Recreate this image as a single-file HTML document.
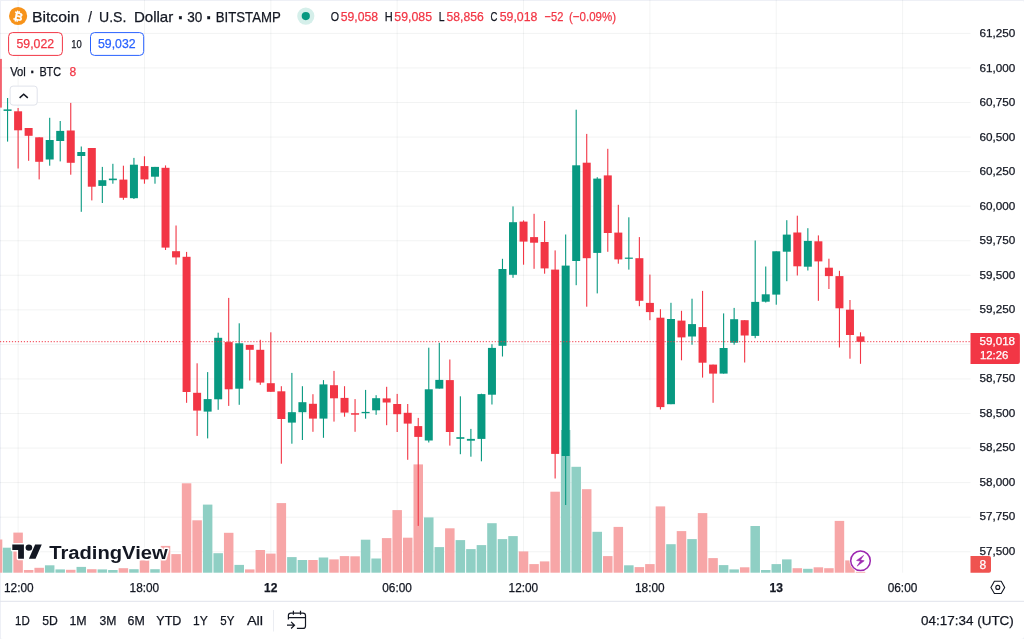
<!DOCTYPE html>
<html lang="en"><head><meta charset="utf-8"><title>BTCUSD Chart</title>
<style>html,body{margin:0;padding:0;background:#fff;overflow:hidden}svg{display:block}text{font-family:"Liberation Sans",Arial,sans-serif}</style></head><body>
<svg width="1024" height="639" viewBox="0 0 1024 639">
<rect x="0" y="0" width="1024" height="639" fill="#fff"/>
<g id="frame" fill="#eef0f6"><rect x="0" y="0" width="1024" height="1"/><rect x="0" y="0" width="1" height="639"/><path d="M1024 0v3a3 3 0 0 0-3-3zM1024 639v-3a3 3 0 0 1-3 3zM0 639v-3a3 3 0 0 0 3 3zM0 0h4a3.5 3.5 0 0 0-3.5 3.5V4H0z"/></g>
<g id="grid"><rect x="17.60" y="0" width="1" height="572.7" fill="#2a2e39" fill-opacity="0.055"/><rect x="143.96" y="0" width="1" height="572.7" fill="#2a2e39" fill-opacity="0.055"/><rect x="270.32" y="0" width="1" height="572.7" fill="#2a2e39" fill-opacity="0.055"/><rect x="396.68" y="0" width="1" height="572.7" fill="#2a2e39" fill-opacity="0.055"/><rect x="523.04" y="0" width="1" height="572.7" fill="#2a2e39" fill-opacity="0.055"/><rect x="649.40" y="0" width="1" height="572.7" fill="#2a2e39" fill-opacity="0.055"/><rect x="775.76" y="0" width="1" height="572.7" fill="#2a2e39" fill-opacity="0.055"/><rect x="902.12" y="0" width="1" height="572.7" fill="#2a2e39" fill-opacity="0.055"/><rect x="0" y="32.90" width="970.5" height="1" fill="#2a2e39" fill-opacity="0.06"/><rect x="0" y="67.45" width="970.5" height="1" fill="#2a2e39" fill-opacity="0.06"/><rect x="0" y="102.01" width="970.5" height="1" fill="#2a2e39" fill-opacity="0.06"/><rect x="0" y="136.56" width="970.5" height="1" fill="#2a2e39" fill-opacity="0.06"/><rect x="0" y="171.12" width="970.5" height="1" fill="#2a2e39" fill-opacity="0.06"/><rect x="0" y="205.68" width="970.5" height="1" fill="#2a2e39" fill-opacity="0.06"/><rect x="0" y="240.23" width="970.5" height="1" fill="#2a2e39" fill-opacity="0.06"/><rect x="0" y="274.78" width="970.5" height="1" fill="#2a2e39" fill-opacity="0.06"/><rect x="0" y="309.34" width="970.5" height="1" fill="#2a2e39" fill-opacity="0.06"/><rect x="0" y="343.89" width="970.5" height="1" fill="#2a2e39" fill-opacity="0.06"/><rect x="0" y="378.45" width="970.5" height="1" fill="#2a2e39" fill-opacity="0.06"/><rect x="0" y="413.00" width="970.5" height="1" fill="#2a2e39" fill-opacity="0.06"/><rect x="0" y="447.56" width="970.5" height="1" fill="#2a2e39" fill-opacity="0.06"/><rect x="0" y="482.11" width="970.5" height="1" fill="#2a2e39" fill-opacity="0.06"/><rect x="0" y="516.67" width="970.5" height="1" fill="#2a2e39" fill-opacity="0.06"/><rect x="0" y="551.23" width="970.5" height="1" fill="#2a2e39" fill-opacity="0.06"/></g>
<g id="volume"><rect x="0" y="539.5" width="2.3" height="33.2" fill="#f7a6a7"/><rect x="2.82" y="547.7" width="9.5" height="25.0" fill="#8fcfc4"/><rect x="13.35" y="532.6" width="9.5" height="40.1" fill="#f7a6a7"/><rect x="23.88" y="570.0" width="9.5" height="2.7" fill="#f7a6a7"/><rect x="34.41" y="567.8" width="9.5" height="4.9" fill="#f7a6a7"/><rect x="44.94" y="565.3" width="9.5" height="7.4" fill="#8fcfc4"/><rect x="55.47" y="569.4" width="9.5" height="3.3" fill="#8fcfc4"/><rect x="66.00" y="569.8" width="9.5" height="2.9" fill="#f7a6a7"/><rect x="76.53" y="566.9" width="9.5" height="5.8" fill="#8fcfc4"/><rect x="87.06" y="569.2" width="9.5" height="3.5" fill="#f7a6a7"/><rect x="97.59" y="569.4" width="9.5" height="3.3" fill="#8fcfc4"/><rect x="108.12" y="570.0" width="9.5" height="2.7" fill="#8fcfc4"/><rect x="118.65" y="568.2" width="9.5" height="4.5" fill="#f7a6a7"/><rect x="129.18" y="569.2" width="9.5" height="3.5" fill="#8fcfc4"/><rect x="139.71" y="560.4" width="9.5" height="12.3" fill="#f7a6a7"/><rect x="150.24" y="569.2" width="9.5" height="3.5" fill="#8fcfc4"/><rect x="160.77" y="545.9" width="9.5" height="26.8" fill="#f7a6a7"/><rect x="171.30" y="554.1" width="9.5" height="18.6" fill="#f7a6a7"/><rect x="181.83" y="483.3" width="9.5" height="89.4" fill="#f7a6a7"/><rect x="192.36" y="520.3" width="9.5" height="52.4" fill="#f7a6a7"/><rect x="202.89" y="504.6" width="9.5" height="68.1" fill="#8fcfc4"/><rect x="213.42" y="553.2" width="9.5" height="19.5" fill="#8fcfc4"/><rect x="223.95" y="532.8" width="9.5" height="39.9" fill="#f7a6a7"/><rect x="234.48" y="564.9" width="9.5" height="7.8" fill="#8fcfc4"/><rect x="245.01" y="569.4" width="9.5" height="3.3" fill="#f7a6a7"/><rect x="255.54" y="550.0" width="9.5" height="22.7" fill="#f7a6a7"/><rect x="266.07" y="553.6" width="9.5" height="19.1" fill="#f7a6a7"/><rect x="276.60" y="503.1" width="9.5" height="69.6" fill="#f7a6a7"/><rect x="287.13" y="557.1" width="9.5" height="15.6" fill="#8fcfc4"/><rect x="297.66" y="560.0" width="9.5" height="12.7" fill="#8fcfc4"/><rect x="308.19" y="560.0" width="9.5" height="12.7" fill="#f7a6a7"/><rect x="318.72" y="557.5" width="9.5" height="15.2" fill="#8fcfc4"/><rect x="329.25" y="559.4" width="9.5" height="13.3" fill="#f7a6a7"/><rect x="339.78" y="556.1" width="9.5" height="16.6" fill="#f7a6a7"/><rect x="350.31" y="556.3" width="9.5" height="16.4" fill="#f7a6a7"/><rect x="360.84" y="539.7" width="9.5" height="33.0" fill="#8fcfc4"/><rect x="371.37" y="558.5" width="9.5" height="14.2" fill="#8fcfc4"/><rect x="381.90" y="538.1" width="9.5" height="34.6" fill="#f7a6a7"/><rect x="392.43" y="510.1" width="9.5" height="62.6" fill="#f7a6a7"/><rect x="402.96" y="537.7" width="9.5" height="35.0" fill="#f7a6a7"/><rect x="413.49" y="464.4" width="9.5" height="108.3" fill="#f7a6a7"/><rect x="424.02" y="517.4" width="9.5" height="55.3" fill="#8fcfc4"/><rect x="434.55" y="547.1" width="9.5" height="25.6" fill="#8fcfc4"/><rect x="445.08" y="528.3" width="9.5" height="44.4" fill="#f7a6a7"/><rect x="455.61" y="540.1" width="9.5" height="32.6" fill="#8fcfc4"/><rect x="466.14" y="549.1" width="9.5" height="23.6" fill="#8fcfc4"/><rect x="476.67" y="545.1" width="9.5" height="27.6" fill="#8fcfc4"/><rect x="487.20" y="523.2" width="9.5" height="49.5" fill="#8fcfc4"/><rect x="497.73" y="539.1" width="9.5" height="33.6" fill="#8fcfc4"/><rect x="508.26" y="536.1" width="9.5" height="36.6" fill="#8fcfc4"/><rect x="518.79" y="551.4" width="9.5" height="21.3" fill="#f7a6a7"/><rect x="529.32" y="564.1" width="9.5" height="8.6" fill="#f7a6a7"/><rect x="539.85" y="561.4" width="9.5" height="11.3" fill="#f7a6a7"/><rect x="550.38" y="491.7" width="9.5" height="81.0" fill="#f7a6a7"/><rect x="560.91" y="430.0" width="9.5" height="142.7" fill="#8fcfc4"/><rect x="571.44" y="466.8" width="9.5" height="105.9" fill="#8fcfc4"/><rect x="581.97" y="489.2" width="9.5" height="83.5" fill="#f7a6a7"/><rect x="592.50" y="531.8" width="9.5" height="40.9" fill="#8fcfc4"/><rect x="603.03" y="556.1" width="9.5" height="16.6" fill="#f7a6a7"/><rect x="613.56" y="526.9" width="9.5" height="45.8" fill="#f7a6a7"/><rect x="624.09" y="565.3" width="9.5" height="7.4" fill="#8fcfc4"/><rect x="634.62" y="567.1" width="9.5" height="5.6" fill="#f7a6a7"/><rect x="645.15" y="564.1" width="9.5" height="8.6" fill="#f7a6a7"/><rect x="655.68" y="506.4" width="9.5" height="66.3" fill="#f7a6a7"/><rect x="666.21" y="544.2" width="9.5" height="28.5" fill="#8fcfc4"/><rect x="676.74" y="531.1" width="9.5" height="41.6" fill="#f7a6a7"/><rect x="687.27" y="539.1" width="9.5" height="33.6" fill="#8fcfc4"/><rect x="697.80" y="513.1" width="9.5" height="59.6" fill="#f7a6a7"/><rect x="708.33" y="558.1" width="9.5" height="14.6" fill="#f7a6a7"/><rect x="718.86" y="565.1" width="9.5" height="7.6" fill="#8fcfc4"/><rect x="729.39" y="569.4" width="9.5" height="3.3" fill="#8fcfc4"/><rect x="739.92" y="567.3" width="9.5" height="5.4" fill="#f7a6a7"/><rect x="750.45" y="526.0" width="9.5" height="46.7" fill="#8fcfc4"/><rect x="760.98" y="570.0" width="9.5" height="2.7" fill="#8fcfc4"/><rect x="771.51" y="564.1" width="9.5" height="8.6" fill="#8fcfc4"/><rect x="782.04" y="559.4" width="9.5" height="13.3" fill="#8fcfc4"/><rect x="792.57" y="568.2" width="9.5" height="4.5" fill="#f7a6a7"/><rect x="803.10" y="568.8" width="9.5" height="3.9" fill="#8fcfc4"/><rect x="813.63" y="567.3" width="9.5" height="5.4" fill="#f7a6a7"/><rect x="824.16" y="568.2" width="9.5" height="4.5" fill="#f7a6a7"/><rect x="834.69" y="520.9" width="9.5" height="51.8" fill="#f7a6a7"/><rect x="845.22" y="560.4" width="9.5" height="12.3" fill="#f7a6a7"/><rect x="855.75" y="571.8" width="9.5" height="0.9" fill="#f7a6a7"/></g>
<g id="candles"><rect x="0" y="58.9" width="1.9" height="48.7" fill="#f3626e"/><rect x="7.02" y="98.0" width="1.1" height="43.6" fill="#089981"/><rect x="3.57" y="109.4" width="8" height="1.5" fill="#089981"/><rect x="17.55" y="108.0" width="1.1" height="60.5" fill="#f23645"/><rect x="14.10" y="111.3" width="8" height="19.0" fill="#f23645"/><rect x="28.08" y="128.0" width="1.1" height="32.8" fill="#f23645"/><rect x="24.63" y="128.0" width="8" height="7.8" fill="#f23645"/><rect x="38.61" y="137.3" width="1.1" height="42.1" fill="#f23645"/><rect x="35.16" y="137.3" width="8" height="24.5" fill="#f23645"/><rect x="49.14" y="117.8" width="1.1" height="47.9" fill="#089981"/><rect x="45.69" y="140.0" width="8" height="19.5" fill="#089981"/><rect x="59.67" y="121.0" width="1.1" height="40.4" fill="#089981"/><rect x="56.22" y="130.9" width="8" height="10.1" fill="#089981"/><rect x="70.20" y="102.9" width="1.1" height="71.8" fill="#f23645"/><rect x="66.75" y="130.5" width="8" height="32.3" fill="#f23645"/><rect x="80.73" y="146.5" width="1.1" height="65.3" fill="#089981"/><rect x="77.28" y="152.0" width="8" height="4.0" fill="#089981"/><rect x="91.26" y="148.0" width="1.1" height="52.4" fill="#f23645"/><rect x="87.81" y="148.0" width="8" height="38.7" fill="#f23645"/><rect x="101.79" y="166.9" width="1.1" height="36.1" fill="#089981"/><rect x="98.34" y="180.2" width="8" height="5.7" fill="#089981"/><rect x="112.32" y="163.8" width="1.1" height="19.9" fill="#089981"/><rect x="108.87" y="178.6" width="8" height="1.6" fill="#089981"/><rect x="122.85" y="165.7" width="1.1" height="34.1" fill="#f23645"/><rect x="119.40" y="179.6" width="8" height="18.2" fill="#f23645"/><rect x="133.38" y="157.9" width="1.1" height="41.1" fill="#089981"/><rect x="129.93" y="164.7" width="8" height="33.5" fill="#089981"/><rect x="143.91" y="156.3" width="1.1" height="27.4" fill="#f23645"/><rect x="140.46" y="166.1" width="8" height="13.3" fill="#f23645"/><rect x="154.44" y="166.9" width="1.1" height="16.8" fill="#089981"/><rect x="150.99" y="166.9" width="8" height="9.8" fill="#089981"/><rect x="164.97" y="165.4" width="1.1" height="84.6" fill="#f23645"/><rect x="161.52" y="167.8" width="8" height="79.8" fill="#f23645"/><rect x="175.50" y="225.5" width="1.1" height="39.1" fill="#f23645"/><rect x="172.05" y="251.2" width="8" height="6.2" fill="#f23645"/><rect x="186.03" y="251.9" width="1.1" height="150.9" fill="#f23645"/><rect x="182.58" y="256.8" width="8" height="135.2" fill="#f23645"/><rect x="196.56" y="363.3" width="1.1" height="72.6" fill="#f23645"/><rect x="193.11" y="392.8" width="8" height="17.8" fill="#f23645"/><rect x="207.09" y="372.1" width="1.1" height="66.3" fill="#089981"/><rect x="203.64" y="399.1" width="8" height="12.5" fill="#089981"/><rect x="217.62" y="332.7" width="1.1" height="77.1" fill="#089981"/><rect x="214.17" y="337.8" width="8" height="61.5" fill="#089981"/><rect x="228.15" y="297.9" width="1.1" height="108.0" fill="#f23645"/><rect x="224.70" y="342.1" width="8" height="47.2" fill="#f23645"/><rect x="238.68" y="323.3" width="1.1" height="81.5" fill="#089981"/><rect x="235.23" y="343.3" width="8" height="45.4" fill="#089981"/><rect x="249.21" y="344.9" width="1.1" height="35.6" fill="#f23645"/><rect x="245.76" y="344.9" width="8" height="4.9" fill="#f23645"/><rect x="259.74" y="339.8" width="1.1" height="45.0" fill="#f23645"/><rect x="256.29" y="349.8" width="8" height="32.8" fill="#f23645"/><rect x="270.27" y="332.3" width="1.1" height="59.5" fill="#f23645"/><rect x="266.82" y="383.2" width="8" height="8.6" fill="#f23645"/><rect x="280.80" y="386.2" width="1.1" height="77.5" fill="#f23645"/><rect x="277.35" y="391.3" width="8" height="27.7" fill="#f23645"/><rect x="291.33" y="372.9" width="1.1" height="70.8" fill="#089981"/><rect x="287.88" y="412.2" width="8" height="10.4" fill="#089981"/><rect x="301.86" y="386.2" width="1.1" height="53.8" fill="#089981"/><rect x="298.41" y="402.2" width="8" height="10.0" fill="#089981"/><rect x="312.39" y="394.2" width="1.1" height="37.6" fill="#f23645"/><rect x="308.94" y="403.8" width="8" height="14.8" fill="#f23645"/><rect x="322.92" y="380.1" width="1.1" height="57.7" fill="#089981"/><rect x="319.47" y="384.4" width="8" height="34.2" fill="#089981"/><rect x="333.45" y="370.9" width="1.1" height="50.7" fill="#f23645"/><rect x="330.00" y="385.2" width="8" height="13.1" fill="#f23645"/><rect x="343.98" y="386.2" width="1.1" height="30.5" fill="#f23645"/><rect x="340.53" y="397.9" width="8" height="14.7" fill="#f23645"/><rect x="354.51" y="399.1" width="1.1" height="32.7" fill="#f23645"/><rect x="351.06" y="413.2" width="8" height="1.5" fill="#f23645"/><rect x="365.04" y="389.9" width="1.1" height="28.8" fill="#089981"/><rect x="361.59" y="411.9" width="8" height="1.3" fill="#089981"/><rect x="375.57" y="395.2" width="1.1" height="19.6" fill="#089981"/><rect x="372.12" y="398.2" width="8" height="12.1" fill="#089981"/><rect x="386.10" y="386.8" width="1.1" height="38.4" fill="#f23645"/><rect x="382.65" y="398.4" width="8" height="4.1" fill="#f23645"/><rect x="396.63" y="393.9" width="1.1" height="38.1" fill="#f23645"/><rect x="393.18" y="404.0" width="8" height="10.2" fill="#f23645"/><rect x="407.16" y="404.0" width="1.1" height="55.8" fill="#f23645"/><rect x="403.71" y="412.8" width="8" height="10.8" fill="#f23645"/><rect x="417.69" y="417.9" width="1.1" height="108.0" fill="#f23645"/><rect x="414.24" y="426.1" width="8" height="10.8" fill="#f23645"/><rect x="428.22" y="347.7" width="1.1" height="94.8" fill="#089981"/><rect x="424.77" y="389.3" width="8" height="51.2" fill="#089981"/><rect x="438.75" y="342.8" width="1.1" height="45.8" fill="#089981"/><rect x="435.30" y="379.9" width="8" height="8.7" fill="#089981"/><rect x="449.28" y="359.5" width="1.1" height="86.1" fill="#f23645"/><rect x="445.83" y="380.1" width="8" height="51.9" fill="#f23645"/><rect x="459.81" y="396.3" width="1.1" height="57.9" fill="#089981"/><rect x="456.36" y="437.2" width="8" height="1.6" fill="#089981"/><rect x="470.34" y="428.9" width="1.1" height="27.8" fill="#089981"/><rect x="466.89" y="438.9" width="8" height="1.8" fill="#089981"/><rect x="480.87" y="393.7" width="1.1" height="67.6" fill="#089981"/><rect x="477.42" y="394.1" width="8" height="44.8" fill="#089981"/><rect x="491.40" y="344.2" width="1.1" height="60.3" fill="#089981"/><rect x="487.95" y="347.9" width="8" height="46.8" fill="#089981"/><rect x="501.93" y="258.8" width="1.1" height="97.7" fill="#089981"/><rect x="498.48" y="269.0" width="8" height="76.8" fill="#089981"/><rect x="512.46" y="206.4" width="1.1" height="71.4" fill="#089981"/><rect x="509.01" y="222.2" width="8" height="52.6" fill="#089981"/><rect x="522.99" y="220.4" width="1.1" height="44.3" fill="#f23645"/><rect x="519.54" y="221.6" width="8" height="20.0" fill="#f23645"/><rect x="533.52" y="213.8" width="1.1" height="55.0" fill="#f23645"/><rect x="530.07" y="237.1" width="8" height="5.6" fill="#f23645"/><rect x="544.05" y="221.0" width="1.1" height="52.7" fill="#f23645"/><rect x="540.60" y="242.0" width="8" height="26.4" fill="#f23645"/><rect x="554.58" y="250.4" width="1.1" height="228.1" fill="#f23645"/><rect x="551.13" y="269.6" width="8" height="184.3" fill="#f23645"/><rect x="565.11" y="234.5" width="1.1" height="270.5" fill="#089981"/><rect x="561.66" y="265.6" width="8" height="190.4" fill="#089981"/><rect x="575.64" y="109.7" width="1.1" height="175.5" fill="#089981"/><rect x="572.19" y="165.3" width="8" height="95.7" fill="#089981"/><rect x="586.17" y="133.9" width="1.1" height="172.8" fill="#f23645"/><rect x="582.72" y="162.7" width="8" height="95.5" fill="#f23645"/><rect x="596.70" y="177.2" width="1.1" height="116.2" fill="#089981"/><rect x="593.25" y="178.6" width="8" height="74.3" fill="#089981"/><rect x="607.23" y="148.8" width="1.1" height="103.0" fill="#f23645"/><rect x="603.78" y="175.4" width="8" height="57.6" fill="#f23645"/><rect x="617.76" y="204.8" width="1.1" height="58.9" fill="#f23645"/><rect x="614.31" y="232.6" width="8" height="26.8" fill="#f23645"/><rect x="628.29" y="217.3" width="1.1" height="52.3" fill="#089981"/><rect x="624.84" y="257.6" width="8" height="1.2" fill="#089981"/><rect x="638.82" y="237.1" width="1.1" height="69.1" fill="#f23645"/><rect x="635.37" y="258.2" width="8" height="42.6" fill="#f23645"/><rect x="649.35" y="274.6" width="1.1" height="45.6" fill="#f23645"/><rect x="645.90" y="302.9" width="8" height="9.2" fill="#f23645"/><rect x="659.88" y="309.2" width="1.1" height="100.3" fill="#f23645"/><rect x="656.43" y="317.7" width="8" height="89.4" fill="#f23645"/><rect x="670.41" y="302.8" width="1.1" height="101.4" fill="#089981"/><rect x="666.96" y="319.0" width="8" height="85.2" fill="#089981"/><rect x="680.94" y="310.8" width="1.1" height="49.5" fill="#f23645"/><rect x="677.49" y="320.6" width="8" height="16.8" fill="#f23645"/><rect x="691.47" y="298.7" width="1.1" height="46.0" fill="#089981"/><rect x="688.02" y="324.1" width="8" height="12.4" fill="#089981"/><rect x="702.00" y="290.9" width="1.1" height="86.7" fill="#f23645"/><rect x="698.55" y="327.1" width="8" height="35.6" fill="#f23645"/><rect x="712.53" y="364.6" width="1.1" height="38.2" fill="#f23645"/><rect x="709.08" y="364.6" width="8" height="9.0" fill="#f23645"/><rect x="723.06" y="313.4" width="1.1" height="60.2" fill="#089981"/><rect x="719.61" y="348.0" width="8" height="25.6" fill="#089981"/><rect x="733.59" y="307.9" width="1.1" height="36.8" fill="#089981"/><rect x="730.14" y="319.2" width="8" height="23.5" fill="#089981"/><rect x="744.12" y="320.2" width="1.1" height="42.3" fill="#f23645"/><rect x="740.67" y="320.2" width="8" height="15.3" fill="#f23645"/><rect x="754.65" y="240.5" width="1.1" height="97.7" fill="#089981"/><rect x="751.20" y="301.9" width="8" height="34.0" fill="#089981"/><rect x="765.18" y="266.5" width="1.1" height="36.0" fill="#089981"/><rect x="761.73" y="294.3" width="8" height="7.4" fill="#089981"/><rect x="775.71" y="251.3" width="1.1" height="53.4" fill="#089981"/><rect x="772.26" y="251.3" width="8" height="43.3" fill="#089981"/><rect x="786.24" y="220.2" width="1.1" height="61.0" fill="#089981"/><rect x="782.79" y="234.6" width="8" height="17.1" fill="#089981"/><rect x="796.77" y="215.7" width="1.1" height="59.8" fill="#f23645"/><rect x="793.32" y="232.5" width="8" height="33.8" fill="#f23645"/><rect x="807.30" y="228.2" width="1.1" height="42.3" fill="#089981"/><rect x="803.85" y="240.9" width="8" height="25.8" fill="#089981"/><rect x="817.83" y="235.4" width="1.1" height="65.4" fill="#f23645"/><rect x="814.38" y="241.3" width="8" height="20.1" fill="#f23645"/><rect x="828.36" y="258.7" width="1.1" height="30.3" fill="#f23645"/><rect x="824.91" y="267.7" width="8" height="8.4" fill="#f23645"/><rect x="838.89" y="270.8" width="1.1" height="76.7" fill="#f23645"/><rect x="835.44" y="276.1" width="8" height="32.2" fill="#f23645"/><rect x="849.42" y="300.0" width="1.1" height="58.7" fill="#f23645"/><rect x="845.97" y="309.7" width="8" height="25.3" fill="#f23645"/><rect x="859.95" y="332.3" width="1.1" height="31.5" fill="#f23645"/><rect x="856.50" y="336.4" width="8" height="5.4" fill="#f23645"/></g>
<line x1="0" y1="341.7" x2="970.5" y2="341.7" stroke="#f23645" stroke-width="1" stroke-dasharray="1.2 1.78"/>
<g id="paxis"><text x="979.4" y="37.1" font-size="11.6" fill="#131722" textLength="35.8" lengthAdjust="spacingAndGlyphs" stroke="#131722" stroke-width="0.25">61,250</text><text x="979.4" y="71.6" font-size="11.6" fill="#131722" textLength="35.8" lengthAdjust="spacingAndGlyphs" stroke="#131722" stroke-width="0.25">61,000</text><text x="979.4" y="106.1" font-size="11.6" fill="#131722" textLength="35.8" lengthAdjust="spacingAndGlyphs" stroke="#131722" stroke-width="0.25">60,750</text><text x="979.4" y="140.6" font-size="11.6" fill="#131722" textLength="35.8" lengthAdjust="spacingAndGlyphs" stroke="#131722" stroke-width="0.25">60,500</text><text x="979.4" y="175.1" font-size="11.6" fill="#131722" textLength="35.8" lengthAdjust="spacingAndGlyphs" stroke="#131722" stroke-width="0.25">60,250</text><text x="979.4" y="209.6" font-size="11.6" fill="#131722" textLength="35.8" lengthAdjust="spacingAndGlyphs" stroke="#131722" stroke-width="0.25">60,000</text><text x="979.4" y="244.1" font-size="11.6" fill="#131722" textLength="35.8" lengthAdjust="spacingAndGlyphs" stroke="#131722" stroke-width="0.25">59,750</text><text x="979.4" y="278.6" font-size="11.6" fill="#131722" textLength="35.8" lengthAdjust="spacingAndGlyphs" stroke="#131722" stroke-width="0.25">59,500</text><text x="979.4" y="313.2" font-size="11.6" fill="#131722" textLength="35.8" lengthAdjust="spacingAndGlyphs" stroke="#131722" stroke-width="0.25">59,250</text><text x="979.4" y="347.7" font-size="11.6" fill="#131722" textLength="35.8" lengthAdjust="spacingAndGlyphs" stroke="#131722" stroke-width="0.25">59,000</text><text x="979.4" y="382.2" font-size="11.6" fill="#131722" textLength="35.8" lengthAdjust="spacingAndGlyphs" stroke="#131722" stroke-width="0.25">58,750</text><text x="979.4" y="416.7" font-size="11.6" fill="#131722" textLength="35.8" lengthAdjust="spacingAndGlyphs" stroke="#131722" stroke-width="0.25">58,500</text><text x="979.4" y="451.2" font-size="11.6" fill="#131722" textLength="35.8" lengthAdjust="spacingAndGlyphs" stroke="#131722" stroke-width="0.25">58,250</text><text x="979.4" y="485.7" font-size="11.6" fill="#131722" textLength="35.8" lengthAdjust="spacingAndGlyphs" stroke="#131722" stroke-width="0.25">58,000</text><text x="979.4" y="520.2" font-size="11.6" fill="#131722" textLength="35.8" lengthAdjust="spacingAndGlyphs" stroke="#131722" stroke-width="0.25">57,750</text><text x="979.4" y="554.7" font-size="11.6" fill="#131722" textLength="35.8" lengthAdjust="spacingAndGlyphs" stroke="#131722" stroke-width="0.25">57,500</text></g>
<path d="M970.5 333.1h47.4a2 2 0 0 1 2 2v26.8a2 2 0 0 1-2 2h-47.4z" fill="#f23645"/>
<text x="979.5" y="344.9" font-size="11.6" fill="#fff" textLength="35.6" lengthAdjust="spacingAndGlyphs" stroke="#fff" stroke-width="0.25">59,018</text>
<text x="979.9" y="358.8" font-size="11.6" fill="#fff" textLength="28.4" lengthAdjust="spacingAndGlyphs" stroke="#fff" stroke-width="0.25">12:26</text>
<path d="M970.5 556.1h18.5a2 2 0 0 1 2 2v12.6a2 2 0 0 1-2 2h-18.5z" fill="#ef5350"/>
<text x="979.4" y="568.6" font-size="12" fill="#fff" stroke="#fff" stroke-width="0.25">8</text>
<g id="taxis"><text x="4.0" y="591.6" font-size="12" fill="#131722" textLength="29.6" lengthAdjust="spacingAndGlyphs" stroke="#131722" stroke-width="0.25">12:00</text><text x="129.6" y="591.6" font-size="12" fill="#131722" textLength="29.6" lengthAdjust="spacingAndGlyphs" stroke="#131722" stroke-width="0.25">18:00</text><text x="270.8" y="591.6" font-size="12" font-weight="bold" fill="#131722" text-anchor="middle" stroke="#131722" stroke-width="0.25">12</text><text x="382.3" y="591.6" font-size="12" fill="#131722" textLength="29.6" lengthAdjust="spacingAndGlyphs" stroke="#131722" stroke-width="0.25">06:00</text><text x="508.6" y="591.6" font-size="12" fill="#131722" textLength="29.6" lengthAdjust="spacingAndGlyphs" stroke="#131722" stroke-width="0.25">12:00</text><text x="635.0" y="591.6" font-size="12" fill="#131722" textLength="29.6" lengthAdjust="spacingAndGlyphs" stroke="#131722" stroke-width="0.25">18:00</text><text x="776.3" y="591.6" font-size="12" font-weight="bold" fill="#131722" text-anchor="middle" stroke="#131722" stroke-width="0.25">13</text><text x="887.7" y="591.6" font-size="12" fill="#131722" textLength="29.6" lengthAdjust="spacingAndGlyphs" stroke="#131722" stroke-width="0.25">06:00</text></g>
<g id="gear" fill="none" stroke="#131722" stroke-width="1.1"><path d="M994.4 581.3h6.8l3.5 6.1-3.5 6.1h-6.8l-3.5-6.1z" stroke-linejoin="round"/><circle cx="997.8" cy="587.4" r="2"/></g>
<rect x="0" y="600.8" width="1024" height="1" fill="#e0e3eb"/>
<g id="ranges"><text x="15" y="625.4" font-size="13" fill="#131722" textLength="14.7" lengthAdjust="spacingAndGlyphs" stroke="#131722" stroke-width="0.25">1D</text><text x="42.2" y="625.4" font-size="13" fill="#131722" textLength="15.6" lengthAdjust="spacingAndGlyphs" stroke="#131722" stroke-width="0.25">5D</text><text x="69.4" y="625.4" font-size="13" fill="#131722" textLength="17.2" lengthAdjust="spacingAndGlyphs" stroke="#131722" stroke-width="0.25">1M</text><text x="99.4" y="625.4" font-size="13" fill="#131722" textLength="16.9" lengthAdjust="spacingAndGlyphs" stroke="#131722" stroke-width="0.25">3M</text><text x="127.5" y="625.4" font-size="13" fill="#131722" textLength="17.2" lengthAdjust="spacingAndGlyphs" stroke="#131722" stroke-width="0.25">6M</text><text x="156.3" y="625.4" font-size="13" fill="#131722" textLength="25.0" lengthAdjust="spacingAndGlyphs" stroke="#131722" stroke-width="0.25">YTD</text><text x="193.1" y="625.4" font-size="13" fill="#131722" textLength="14.7" lengthAdjust="spacingAndGlyphs" stroke="#131722" stroke-width="0.25">1Y</text><text x="220.3" y="625.4" font-size="13" fill="#131722" textLength="14.1" lengthAdjust="spacingAndGlyphs" stroke="#131722" stroke-width="0.25">5Y</text><text x="246.9" y="625.4" font-size="13" fill="#131722" textLength="16.2" lengthAdjust="spacingAndGlyphs" stroke="#131722" stroke-width="0.25">All</text></g>
<rect x="273" y="610" width="1" height="21.5" fill="#ebedf2"/>
<g id="cal" fill="none" stroke="#131722" stroke-width="1.2" stroke-linecap="butt"><path d="M288.4 619.6v-4a2.5 2.5 0 0 1 2.5-2.5h12.1a2.5 2.5 0 0 1 2.5 2.5v10.3a2.5 2.5 0 0 1-2.5 2.5h-6.1"/><path d="M288.4 617.6h17.1M293.4 610.8v4M300.5 610.8v4M287 625.2h7.3M291.1 621.9l3.4 3.3-3.4 3.3"/></g>
<text x="921.1" y="625.4" font-size="13" fill="#131722" textLength="92.7" lengthAdjust="spacingAndGlyphs" stroke="#131722" stroke-width="0.25">04:17:34 (UTC)</text>
<circle cx="18.1" cy="16" r="9.1" fill="#f7931a"/>
<text x="18.3" y="20.3" font-size="11.5" font-weight="bold" fill="#fff" text-anchor="middle" transform="rotate(13 18.1 16)" stroke="#fff" stroke-width="0.25">₿</text>
<text y="21.8" font-size="15" fill="#131722" stroke="#131722" stroke-width="0.25"><tspan x="31.9" textLength="47.4" lengthAdjust="spacingAndGlyphs">Bitcoin</tspan> <tspan x="88.2" textLength="3.7" lengthAdjust="spacingAndGlyphs">/</tspan> <tspan x="99.1" textLength="27.3" lengthAdjust="spacingAndGlyphs">U.S.</tspan> <tspan x="133.9" textLength="39.4" lengthAdjust="spacingAndGlyphs">Dollar</tspan> <tspan x="177.84" dy="2" font-size="19" font-weight="bold">·</tspan><tspan dy="-2" font-size="15"> </tspan> <tspan x="187.3" textLength="15.1" lengthAdjust="spacingAndGlyphs">30</tspan> <tspan x="206.04" dy="2" font-size="19" font-weight="bold">·</tspan><tspan dy="-2" font-size="15"> </tspan> <tspan x="215.8" textLength="65.0" lengthAdjust="spacingAndGlyphs">BITSTAMP</tspan></text>
<circle cx="305.8" cy="16.1" r="8.6" fill="#d5efea"/><circle cx="305.8" cy="16.1" r="4.1" fill="#089981"/>
<g id="ohlc"><text x="330.7" y="20.8" font-size="13" fill="#131722" textLength="8.3" lengthAdjust="spacingAndGlyphs" stroke="#131722" stroke-width="0.25">O</text><text x="340.7" y="20.8" font-size="13" fill="#f23645" textLength="37.3" lengthAdjust="spacingAndGlyphs" stroke="#f23645" stroke-width="0.25">59,058</text><text x="384.7" y="20.8" font-size="13" fill="#131722" textLength="8.0" lengthAdjust="spacingAndGlyphs" stroke="#131722" stroke-width="0.25">H</text><text x="394.3" y="20.8" font-size="13" fill="#f23645" textLength="37.7" lengthAdjust="spacingAndGlyphs" stroke="#f23645" stroke-width="0.25">59,085</text><text x="438.8" y="20.8" font-size="13" fill="#131722" textLength="5.8" lengthAdjust="spacingAndGlyphs" stroke="#131722" stroke-width="0.25">L</text><text x="446.6" y="20.8" font-size="13" fill="#f23645" textLength="37.1" lengthAdjust="spacingAndGlyphs" stroke="#f23645" stroke-width="0.25">58,856</text><text x="490.5" y="20.8" font-size="13" fill="#131722" textLength="6.9" lengthAdjust="spacingAndGlyphs" stroke="#131722" stroke-width="0.25">C</text><text x="499.7" y="20.8" font-size="13" fill="#f23645" textLength="37.7" lengthAdjust="spacingAndGlyphs" stroke="#f23645" stroke-width="0.25">59,018</text><text x="544.6" y="20.8" font-size="13" fill="#f23645" textLength="18.8" lengthAdjust="spacingAndGlyphs" stroke="#f23645" stroke-width="0.25">−52</text><text x="569" y="20.8" font-size="13" fill="#f23645" textLength="47.0" lengthAdjust="spacingAndGlyphs" stroke="#f23645" stroke-width="0.25">(−0.09%)</text></g>
<rect x="8.6" y="32.6" width="53.8" height="22.8" rx="4" fill="#fff" stroke="#f23645" stroke-width="1"/>
<text x="16.5" y="48.3" font-size="13" fill="#f23645" textLength="37.6" lengthAdjust="spacingAndGlyphs" stroke="#f23645" stroke-width="0.25">59,022</text>
<text x="71.2" y="47.8" font-size="11" fill="#131722" textLength="10.5" lengthAdjust="spacingAndGlyphs" stroke="#131722" stroke-width="0.25">10</text>
<rect x="90.5" y="32.6" width="53.2" height="22.8" rx="4" fill="#fff" stroke="#2962ff" stroke-width="1"/>
<text x="98" y="48.3" font-size="13" fill="#2962ff" textLength="37.6" lengthAdjust="spacingAndGlyphs" stroke="#2962ff" stroke-width="0.25">59,032</text>
<text y="75.9" font-size="12" fill="#131722" stroke="#131722" stroke-width="0.25"><tspan x="10.2" textLength="15.6" lengthAdjust="spacingAndGlyphs">Vol</tspan> <tspan x="30.2" dy="0.6" font-size="14" font-weight="bold">·</tspan><tspan dy="-0.6" font-size="12"> </tspan> <tspan x="39.4" textLength="21.6" lengthAdjust="spacingAndGlyphs">BTC</tspan></text>
<text x="69.6" y="75.9" font-size="12" fill="#f23645" stroke="#f23645" stroke-width="0.25">8</text>
<rect x="10.1" y="86.1" width="27.1" height="19" rx="3" fill="#fff" fill-opacity="0.85" stroke="#e0e3eb" stroke-width="1"/>
<path d="M19.6 97.9l4.1-3.7 4.1 3.7" fill="none" stroke="#131722" stroke-width="1.5"/>
<g id="tvlogo" transform="translate(12.3 541.2) scale(0.83 0.8)"><g stroke="#fff" stroke-width="3.5" stroke-linejoin="round" fill="#fff"><path d="M14 22H7V11H0V4h14v18zM28 22h-8l7.5-18h8L28 22z"/><circle cx="20" cy="8" r="4"/></g><g fill="#131722"><path d="M14 22H7V11H0V4h14v18zM28 22h-8l7.5-18h8L28 22z"/><circle cx="20" cy="8" r="4"/></g></g>
<text x="49.2" y="558.6" font-size="18.8" font-weight="bold" fill="#131722" stroke="#fff" stroke-width="3" stroke-linejoin="round" paint-order="stroke" textLength="118.6" lengthAdjust="spacingAndGlyphs">TradingView</text>
<g id="bolt"><circle cx="860.5" cy="560.65" r="11" fill="#fff"/><circle cx="860.5" cy="560.8" r="9.8" fill="#fff" stroke="#9c27b0" stroke-width="1.5"/><path d="M863.6 555.4l-7 5.1 3.9 0.6-3.3 5 7-5.3-3.8-0.7z" fill="#9c27b0" stroke="#9c27b0" stroke-width="0.6" stroke-linejoin="round"/></g>
</svg></body></html>
